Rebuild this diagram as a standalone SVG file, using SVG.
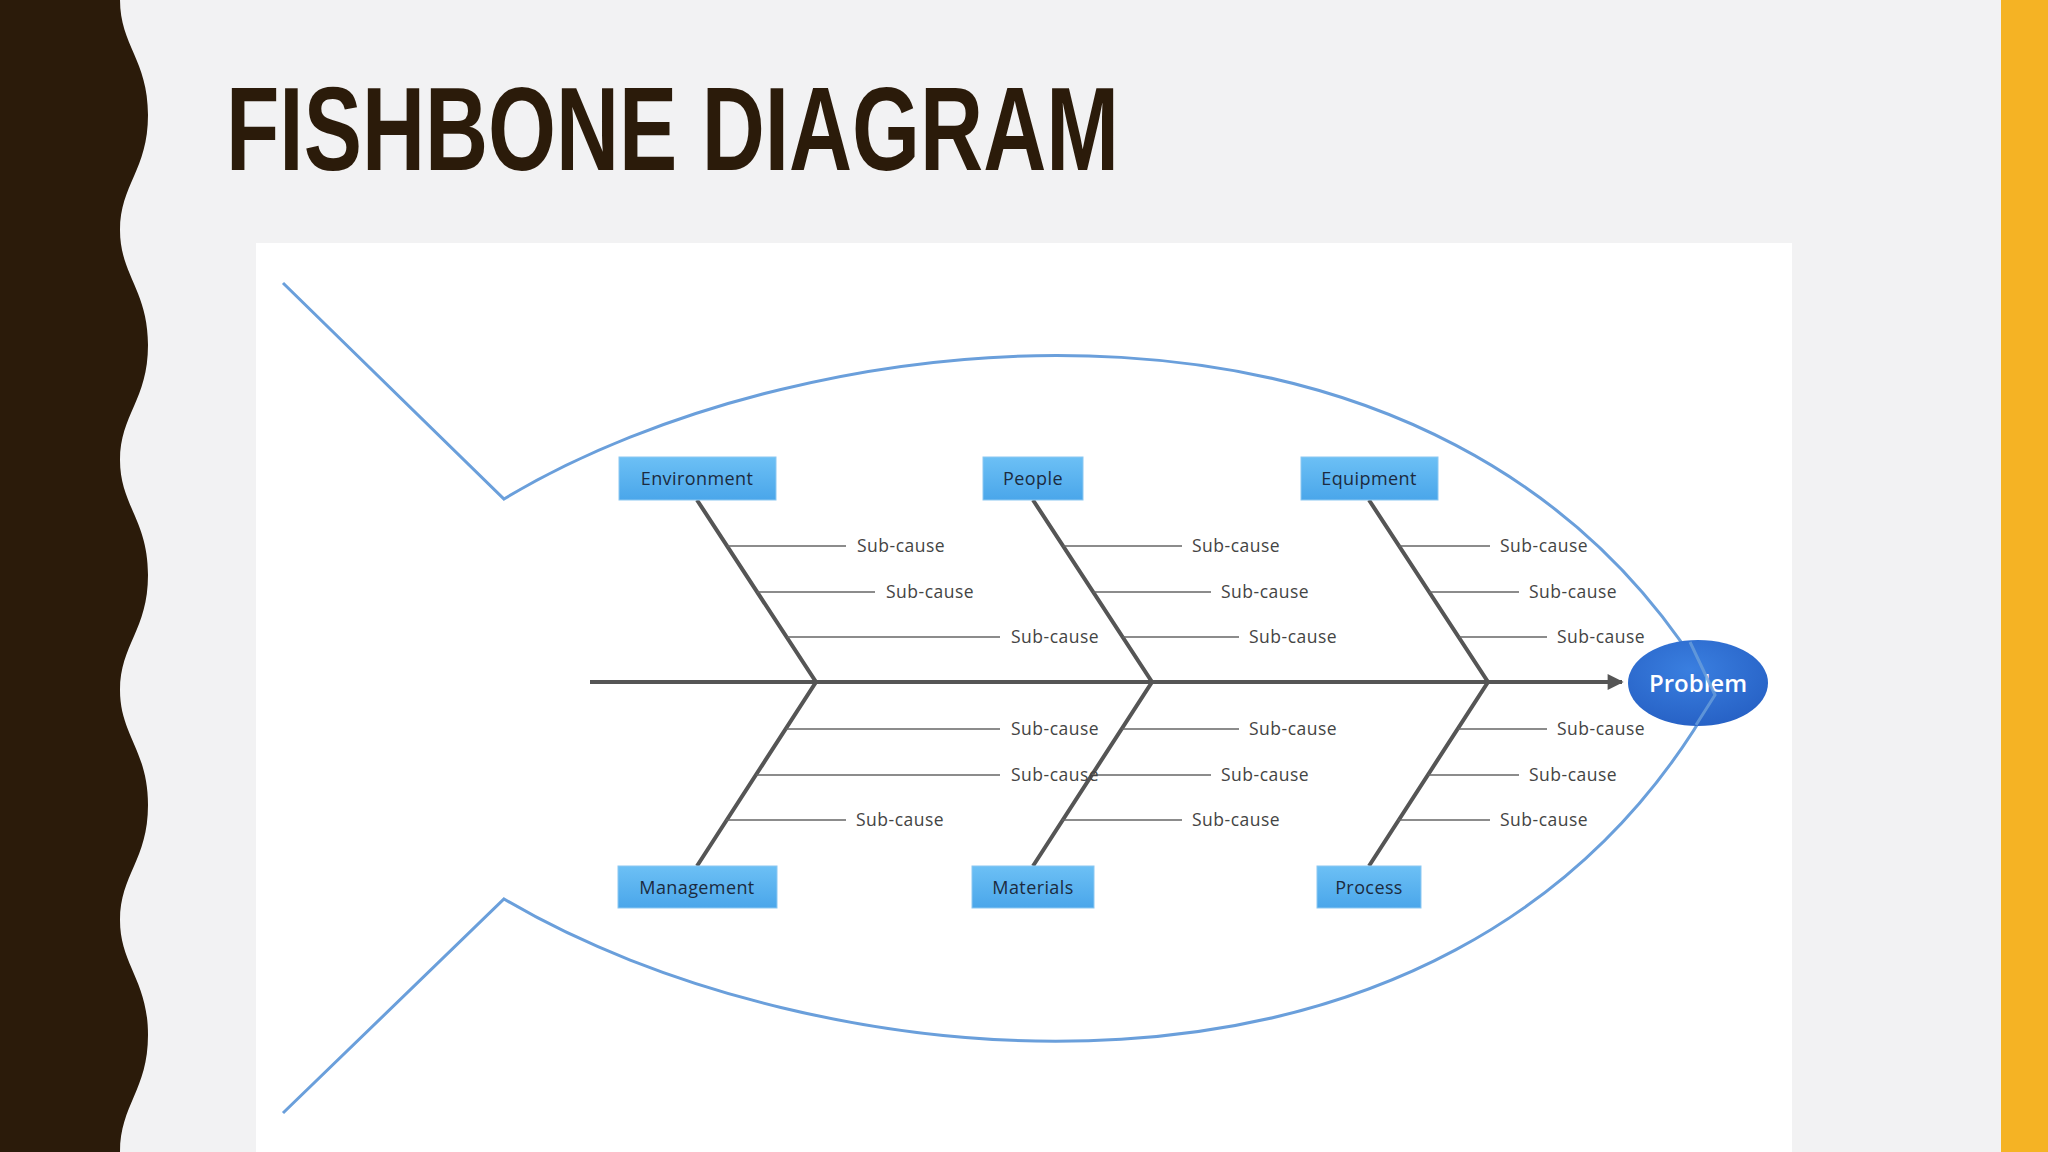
<svg xmlns="http://www.w3.org/2000/svg" width="2048" height="1152" viewBox="0 0 2048 1152">
<defs>
<style>
.fish{fill:none;stroke:#6a9fdb;stroke-width:3}
.bone{stroke:#555;stroke-width:4;fill:none}
.sub{stroke:#666;stroke-width:1.5}
.st{font-family:"Open Sans",sans-serif;font-size:17.5px;letter-spacing:0.5px;fill:#444}
.box{fill:url(#bg);stroke:#8cc8f2;stroke-width:1}
.bt{font-family:"Open Sans",sans-serif;font-size:18px;letter-spacing:0.4px;fill:#1c2b40;text-anchor:middle}
</style>
<linearGradient id="bg" x1="0" y1="0" x2="0" y2="1"><stop offset="0" stop-color="#6cc0f5"/><stop offset="1" stop-color="#4aa6ea"/></linearGradient>
<radialGradient id="eg" cx="0.45" cy="0.35" r="0.7"><stop offset="0" stop-color="#3a7fe0"/><stop offset="1" stop-color="#2660c4"/></radialGradient>
<marker id="ar" viewBox="0 0 10 10" refX="9" refY="5" markerWidth="5" markerHeight="4" markerUnits="strokeWidth" orient="auto"><path d="M0,0L10,5L0,10z" fill="#555"/></marker>
</defs>
<rect width="2048" height="1152" fill="#f2f2f3"/>
<path d="M0,0 L120,0 C120,45 148,60 148,115 C148,170 120,185 120,230 C120,275 148,290 148,345 C148,400 120,415 120,460 C120,505 148,520 148,575 C148,630 120,645 120,690 C120,735 148,750 148,805 C148,860 120,875 120,920 C120,965 148,980 148,1035 C148,1090 120,1105 120,1152 L0,1152 Z" fill="#2b1b0a"/>
<rect x="2001" y="0" width="47" height="1152" fill="#f5b324"/>
<text x="226" y="170" font-family="Liberation Sans,Arial,sans-serif" font-weight="bold" font-size="118" fill="#2b1b0a" textLength="893" lengthAdjust="spacingAndGlyphs">FISHBONE DIAGRAM</text>
<rect x="256" y="243" width="1536" height="909" fill="#ffffff"/>
<g id="fish-outline">
<path class="fish" d="M283,283 L504,499 C800,320 1450,235 1715,695 C1450,1165 800,1075 504,899 L283,1113"/>
</g>
<g id="connectors">
<line class="bone" x1="590" y1="682" x2="1622" y2="682" marker-end="url(#ar)"/>
<path class="bone" d="M697,500 L816,682 L697,866 M1033,500 L1152,682 L1033,866 M1369,500 L1488,682 L1369,866"/>
<g class="sub">
<line x1="727" y1="546" x2="846" y2="546"/><line x1="757" y1="592" x2="875" y2="592"/><line x1="787" y1="637" x2="1000" y2="637"/>
<line x1="786" y1="729" x2="1000" y2="729"/><line x1="756" y1="775" x2="1000" y2="775"/><line x1="726" y1="820" x2="846" y2="820"/>
<line x1="1063" y1="546" x2="1182" y2="546"/><line x1="1093" y1="592" x2="1211" y2="592"/><line x1="1123" y1="637" x2="1239" y2="637"/>
<line x1="1122" y1="729" x2="1239" y2="729"/><line x1="1092" y1="775" x2="1211" y2="775"/><line x1="1062" y1="820" x2="1182" y2="820"/>
<line x1="1399" y1="546" x2="1490" y2="546"/><line x1="1429" y1="592" x2="1519" y2="592"/><line x1="1459" y1="637" x2="1547" y2="637"/>
<line x1="1458" y1="729" x2="1547" y2="729"/><line x1="1428" y1="775" x2="1519" y2="775"/><line x1="1398" y1="820" x2="1490" y2="820"/>
</g>
</g>
<g id="subcauses" class="st">
<text x="857" y="552">Sub-cause</text><text x="886" y="598">Sub-cause</text><text x="1011" y="643">Sub-cause</text>
<text x="1011" y="735">Sub-cause</text><text x="1011" y="781">Sub-cause</text><text x="856" y="826">Sub-cause</text>
<text x="1192" y="552">Sub-cause</text><text x="1221" y="598">Sub-cause</text><text x="1249" y="643">Sub-cause</text>
<text x="1249" y="735">Sub-cause</text><text x="1221" y="781">Sub-cause</text><text x="1192" y="826">Sub-cause</text>
<text x="1500" y="552">Sub-cause</text><text x="1529" y="598">Sub-cause</text><text x="1557" y="643">Sub-cause</text>
<text x="1557" y="735">Sub-cause</text><text x="1529" y="781">Sub-cause</text><text x="1500" y="826">Sub-cause</text>
</g>
<g id="environment"><rect class="box" x="619" y="457" width="157" height="43"/><text class="bt" x="697" y="485">Environment</text></g>
<g id="people"><rect class="box" x="983" y="457" width="100" height="43"/><text class="bt" x="1033" y="485">People</text></g>
<g id="equipment"><rect class="box" x="1301" y="457" width="137" height="43"/><text class="bt" x="1369" y="485">Equipment</text></g>
<g id="management"><rect class="box" x="618" y="866" width="159" height="42"/><text class="bt" x="697" y="894">Management</text></g>
<g id="materials"><rect class="box" x="972" y="866" width="122" height="42"/><text class="bt" x="1033" y="894">Materials</text></g>
<g id="process"><rect class="box" x="1317" y="866" width="104" height="42"/><text class="bt" x="1369" y="894">Process</text></g>
<g id="problem"><ellipse cx="1698" cy="683" rx="70" ry="43" fill="url(#eg)"/><text x="1698" y="692" font-family="Open Sans,sans-serif" font-size="24" font-weight="600" fill="#fff" text-anchor="middle">Problem</text></g>
<path class="fish" d="M1690,642 L1715,695 L1696,725" opacity="0.8"/>
</svg>
